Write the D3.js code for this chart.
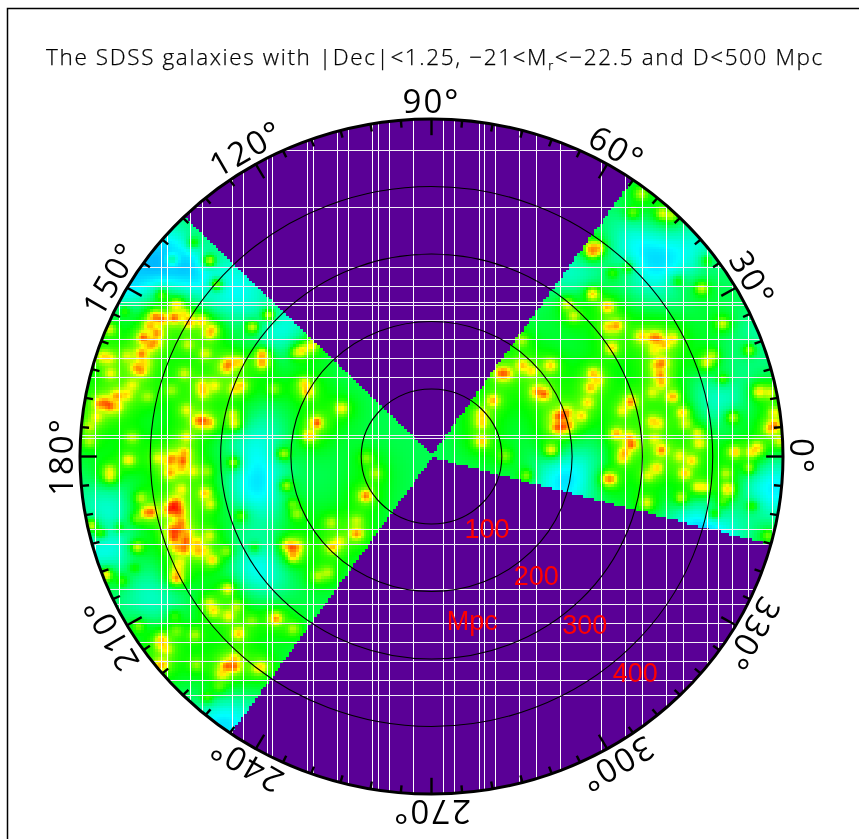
<!DOCTYPE html>
<html><head><meta charset="utf-8">
<script src="https://cdn.jsdelivr.net/npm/d3@7/dist/d3.min.js"></script>
<style>
html,body{margin:0;padding:0;background:#fff;width:859px;height:839px;overflow:hidden}
#wrap{position:relative;width:859px;height:839px}
canvas,svg{position:absolute;left:0;top:0}
</style></head><body><div id="wrap"></div>
<script>
// Galaxy concentrations: [X Mpc, Y Mpc, strength]
const leftWedgeGalaxies = [
[-338,318,.35],[-368,293,.3],[-315,291,.65],[-305,256,.6],[-383,241,.35],[-436,217,.3],[-362,226,.6],[-393,208,.8],[-383,205,.8],[-365,207,.85],[-344,201,.75],[-326,202,.65],[-457,190,.5],[-400,195,.6],[-390,184,.7],[-409,177,.85],[-393,170,.6],[-400,165,.55],[-311,190,.55],[-315,183,.55],[-254,193,.6],[-346,167,.35],[-321,153,.4],[-412,153,.75],[-467,149,.5],[-457,147,.45],[-432,150,.35],[-240,152,.8],[-240,140,.75],[-275,141,.55],[-288,139,.65],[-291,133,.6],[-419,133,.6],[-412,128,.6],[-408,140,.4],[-456,124,.45],[-351,124,.4],[-425,107,.4],[-326,106,.5],[-324,96,.5],[-308,106,.45],[-270,106,.55],[-280,101,.5],[-369,99,.3],[-403,90,.3],[-433,93,.5],[-447,91,.65],[-464,81,.7],[-457,76,.8],[-472,79,.6],[-445,75,.4],[-476,59,.45],[-486,45,.35],[-486,24,.35],[-425,29,.35],[-348,70,.45],[-325,54,.8],[-332,54,.6],[-315,51,.6],[-282,63,.45],[-280,50,.55],[-348,30,.45],[-351,7,.6],[-353,-5,.8],[-368,-1,.6],[-372,-7,.55],[-388,-1,.4],[-430,-4,.55],[-355,-16,.5],[-281,-8,.5],[-371,-23,.65],[-339,-21,.4],[-319,-21,.3],[-457,-20,.45],[-457,-29,.5],[-355,-48,.45],[-321,-53,.6],[-314,-69,.45],[-413,-60,.4],[-398,-81,.8],[-405,-82,.65],[-366,-73,.95],[-372,-78,.85],[-361,-78,.8],[-362,-67,.7],[-358,-84,.5],[-270,-87,.35],[-419,-91,.3],[-483,-101,.6],[-470,-112,.4],[-356,-97,.65],[-365,-110,.75],[-365,-119,.85],[-348,-113,.55],[-349,-124,.8],[-368,-106,.5],[-358,-106,.6],[-351,-136,.75],[-362,-134,.55],[-332,-127,.5],[-332,-139,.55],[-322,-139,.4],[-315,-116,.4],[-418,-133,.55],[-311,-152,.6],[-291,-139,.35],[-358,-156,.45],[-362,-179,.8],[-361,-168,.5],[-462,-174,.7],[-289,-195,.6],[-443,-104,.3],[-422,-164,.25],[-315,-216,.4],[-309,-227,.55],[-288,-235,.5],[-277,-221,.35],[-221,-239,.8],[-416,-250,.35],[-336,-263,.35],[-274,-261,.6],[-383,-269,.55],[-383,-278,.45],[-376,-285,.4],[-291,-309,.8],[-280,-310,.8],[-280,-299,.5],[-297,-321,.5],[-240,-310,.45],[-247,-313,.4],[-382,-307,.6],[-389,-310,.4],[-334,-307,.3],[-318,-356,.3],[-301,-341,.25],[-362,-257,.25],[-365,-235,.25],[-439,-183,.3],[-231,211,.6],[-183,159,.6],[-170,165,.6],[-191,155,.4],[-180,109,.55],[-176,97,.65],[-223,101,.3],[-127,72,.55],[-163,51,.9],[-173,32,.65],[-210,5,.5],[-206,-42,.5],[-79,-24,.35],[-93,-57,.85],[-92,-1,.3],[-197,-69,.3],[-191,-84,.35],[-142,-97,.35],[-106,-94,.35],[-106,-113,.75],[-197,-134,.9],[-204,-131,.65],[-190,-133,.5],[-196,-146,.7],[-140,-133,.65],[-130,-125,.4],[-161,-176,.35],[-147,-171,.35],[-196,-254,.35],[-255,-242,.25],[-251,-134,.3],[-351,213,.5]
];
const rightWedgeGalaxies = [
[129,173,.35],[100,124,.75],[106,124,.7],[130,136,.6],[143,128,.5],[170,136,.6],[231,124,.6],[237,113,.45],[227,103,.6],[151,97,.7],[161,94,.85],[223,81,.55],[89,84,.7],[72,64,.55],[72,51,.55],[180,60,.7],[193,66,.6],[187,61,.8],[214,61,.55],[179,44,.8],[187,45,.85],[196,48,.6],[72,24,.65],[171,11,.6],[136,-27,.4],[251,-32,.55],[105,2,.3],[228,310,.7],[230,304,.8],[237,310,.75],[230,242,.7],[251,223,.7],[194,227,.5],[203,210,.45],[252,193,.55],[264,195,.7],[258,273,.3],[299,390,.4],[287,362,.35],[329,361,.5],[342,358,.4],[280,281,.35],[351,261,.3],[385,251,.5],[392,291,.3],[415,198,.5],[257,162,.6],[299,179,.55],[315,177,.6],[322,176,.7],[344,176,.5],[332,167,.55],[318,159,.4],[453,159,.45],[329,140,.7],[322,136,.55],[392,140,.5],[400,150,.4],[326,122,.7],[328,110,.6],[415,116,.35],[467,97,.6],[482,96,.45],[315,96,.4],[344,90,.7],[284,82,.8],[272,69,.45],[358,66,.6],[429,59,.5],[489,66,.45],[489,47,.75],[482,42,.55],[315,53,.5],[324,50,.4],[362,50,.4],[264,35,.7],[282,29,.6],[379,36,.45],[496,24,.45],[318,27,.4],[382,21,.5],[285,19,.85],[275,7,.6],[272,-2,.5],[328,11,.8],[432,8,.65],[456,7,.55],[464,14,.6],[354,2,.45],[371,-5,.55],[321,-16,.55],[361,-24,.6],[453,-16,.4],[420,-24,.4],[309,-27,.45],[255,-32,.75],[379,-44,.5],[389,-45,.5],[422,-45,.5],[422,-51,.45],[356,-60,.45],[307,-67,.5],[415,-66,.3],[457,-72,.35],[403,-84,.35],[479,-116,.35]
];
// Under-dense regions: [X Mpc, Y Mpc, depth]
const voids = [
[-244,-45,.17],[-251,24,.12],[-457,-75,.12],[-464,-139,.15],[-390,-208,.12],[-244,-158,.17],[-386,301,.16],[-348,276,.09],[-284,247,.14],[-325,281,.07],[325,281,.14],[280,320,.11],[385,310,.1],[482,-45,.18],[187,-35,.17],[207,276,.13],[382,-94,.13],[410,84,.13],[-216,187,.17],[-297,-395,.18],[-440,250,.16],[460,170,.09],[395,-130,.13],[230,0,.05]
];
const wedgeLeft = [135,235], wedgeRight = [-15,55];
const ringValues = [100,200,300,400];
const ringLabels = [["100",79,-107],["200",149,-177],["300",218,-250],["400",290,-320],["Mpc",58,-243]];
const angleTicks = d3.range(0,360,5);
const angleLabels = [0,30,60,90,120,150,180,210,240,270,300,330];
// Columns and rows of the map that carry no data (Mpc)
const blankColumns = [-479,-445,-385,-376,-344,-326,-284,-268,-234,-227,-177,-169,-134,-119,-85,-76,-60,-26,16,32,68,75,90,124,149,183,241,275,299,334,358,392,408,427,450,484];
const blankRows = [454,370,281,253,229,224,202,174,146,118,32,27,-107,-130,-196,-219,-247,-275,-303,-331,-353];
const densityStops = [0,.1,.2,.31,.46,.56,.72,.95];
const densityColors = ["#0090ff","#00ffff","#00ff90","#00ff00","#a8ff00","#ffff00","#ff9a00","#ff0000"];
const emptyColor = "#5a0096";

const W=859,H=839,cx=431.5,cy=456.5,rx=351.5,ry=337.5;
const x=d3.scaleLinear().domain([-500,500]).range([cx-rx,cx+rx]);
const y=d3.scaleLinear().domain([-500,500]).range([cy+ry,cy-ry]);
const color=d3.scaleLinear().domain(densityStops).range(densityColors).clamp(true);

const wrap=d3.select("#wrap");
const canvas=wrap.append("canvas").attr("width",W).attr("height",H).node();
const ctx=canvas.getContext("2d");
const galaxies=leftWedgeGalaxies.concat(rightWedgeGalaxies);
const step=4;
function inWedge(X,Y){
  let a=Math.atan2(Y,X)*180/Math.PI;
  if(a<-90)a+=360;
  return (a>=wedgeRight[0]&&a<=wedgeRight[1])||(a>=wedgeLeft[0]&&a<=wedgeLeft[1]);
}
function density(X,Y){
  let miss=1,wide=0,mid=0;
  for(const g of galaxies){
    const d2=(X-g[0])**2+(Y-g[1])**2;
    if(d2>6000)continue;
    miss*=1-Math.pow(g[2],1.3)*Math.exp(-d2/(2*5.5*5.5));
    wide+=g[2]*Math.exp(-d2/(2*24*24));
    mid+=g[2]*Math.exp(-d2/(2*11*11));
  }
  let f=.25+.09*(1-Math.exp(-wide))+.13*(1-Math.exp(-mid*1.2));
  for(const v of voids){
    const d2=(X-v[0])**2+(Y-v[1])**2;
    f-=v[2]*Math.exp(-d2/(2*36*36));
  }
  return f+.48*(1-miss);
}
ctx.save();
ctx.beginPath();ctx.ellipse(cx,cy,rx,ry,0,0,2*Math.PI);ctx.clip();
ctx.fillStyle=emptyColor;ctx.fillRect(0,0,W,H);
for(const X of d3.range(-500,500,step))for(const Y of d3.range(-500,500,step)){
  const mx=X+step/2,my=Y+step/2;
  if(mx*mx+my*my>515*515||!inWedge(mx,my))continue;
  ctx.fillStyle=color(density(mx,my));
  const px=x(X),py=y(Y+step);
  ctx.fillRect(Math.floor(px),Math.floor(py),Math.ceil(x(X+step)-px)+1,Math.ceil(y(Y)-py)+1);
}
ctx.restore();

const svg=wrap.append("svg").attr("width",W).attr("height",H);
svg.append("defs").append("clipPath").attr("id","disc").append("ellipse")
  .attr("cx",cx).attr("cy",cy).attr("rx",rx).attr("ry",ry);
const gaps=svg.append("g").attr("clip-path","url(#disc)").attr("shape-rendering","crispEdges");
gaps.selectAll(".c").data(blankColumns).join("line").attr("class","c")
  .attr("x1",d=>Math.round(x(d))+.5).attr("x2",d=>Math.round(x(d))+.5).attr("y1",cy-ry).attr("y2",cy+ry)
  .attr("stroke","#fff").attr("stroke-width",1);
gaps.selectAll(".r").data(blankRows).join("line").attr("class","r")
  .attr("y1",d=>Math.round(y(d))+.5).attr("y2",d=>Math.round(y(d))+.5).attr("x1",cx-rx).attr("x2",cx+rx)
  .attr("stroke","#f2eef6").attr("stroke-width",1);

svg.selectAll(".ring").data(ringValues).join("ellipse").attr("class","ring")
  .attr("cx",x(0)).attr("cy",y(0)).attr("rx",d=>x(d)-x(0)).attr("ry",d=>y(0)-y(d))
  .attr("fill","none").attr("stroke","#000").attr("stroke-width",1.1);

const px=(a,k)=>x(500*k*Math.cos(a*Math.PI/180));
const py=(a,k)=>y(500*k*Math.sin(a*Math.PI/180));
svg.selectAll(".tick").data(angleTicks).join("line").attr("class","tick")
  .attr("x1",a=>px(a,1)).attr("y1",a=>py(a,1))
  .attr("x2",a=>px(a,a%30===0?.952:.978)).attr("y2",a=>py(a,a%30===0?.952:.978))
  .attr("stroke","#000").attr("stroke-width",2.4);
svg.append("ellipse").attr("cx",cx).attr("cy",cy).attr("rx",rx).attr("ry",ry)
  .attr("fill","none").attr("stroke","#000").attr("stroke-width",3);

svg.selectAll(".alab").data(angleLabels).join("text").attr("class","alab")
  .attr("transform",a=>`translate(${px(a,1.056)},${py(a,1.056)}) rotate(${90-a})`)
  .attr("text-anchor","middle").attr("dominant-baseline","central")
  .attr("font-family","'Open Sans',sans-serif").attr("font-size",33).attr("letter-spacing",2)
  .attr("fill","#000").text(a=>a+"°");

svg.selectAll(".rlab").data(ringLabels).join("text").attr("class","rlab")
  .attr("x",d=>x(d[1])).attr("y",d=>y(d[2])).attr("text-anchor","middle").attr("dominant-baseline","central")
  .attr("font-family","'Liberation Sans',sans-serif").attr("font-size",27).attr("fill","#ff0000").text(d=>d[0]);

const title=svg.append("text").attr("x",435).attr("y",65).attr("text-anchor","middle")
  .attr("font-family","'Open Sans',sans-serif").attr("font-size",22.5).attr("font-weight",300).attr("letter-spacing",1.63)
  .attr("stroke","#000").attr("stroke-width",.25).attr("fill","#000");
title.append("tspan").text("The SDSS galaxies with |Dec|<1.25, −21<M");
title.append("tspan").attr("dy",5).attr("font-size",13).text("r");
title.append("tspan").attr("dy",-5).text("<−22.5 and D<500 Mpc");

svg.append("path").attr("d",`M7.5,${H}V8.5H${W}`).attr("fill","none").attr("stroke","#000").attr("stroke-width",1.5);
</script></body></html>
